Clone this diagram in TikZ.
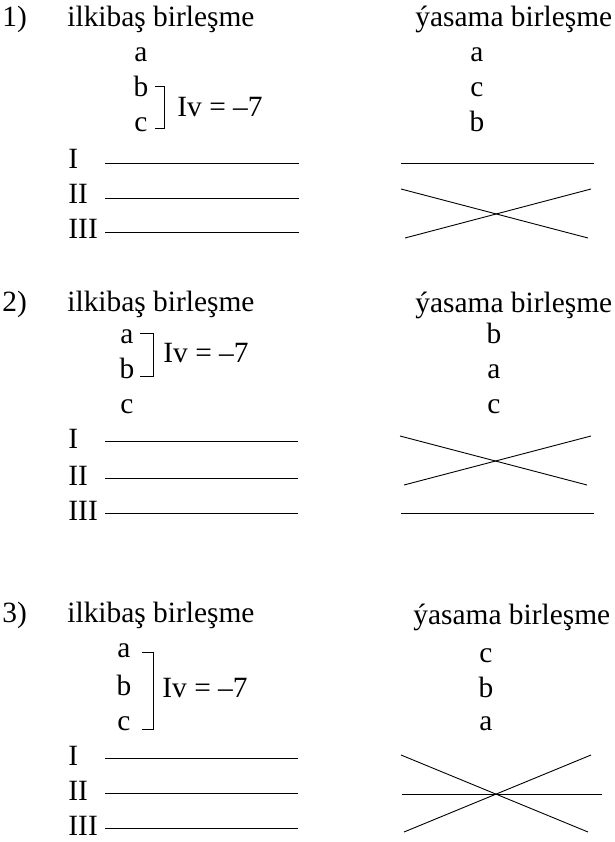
\documentclass[tikz,border=0pt]{standalone}
\usepackage{fontspec}
\setmainfont{Liberation Serif}
\usepackage{tikz}

\begin{document}
\begin{tikzpicture}[x=1pt, y=-1pt, line width=0.9pt,
    txt/.style={inner sep=0pt, anchor=base west, font=\fontsize{29.4}{35}\selectfont},
    atom/.style={inner sep=0pt, anchor=base, font=\fontsize{29.4}{35}\selectfont}]
    \useasboundingbox (0,0) rectangle (614,842);

    % 1) ilkibaş birleşme
    \node[txt] (n1) at (2,27) {1)};
    \node[txt] (t1) at (67,27) {ilkibaş birleşme};
    \node[atom] (a1) at (141,62) {a};
    \node[atom] (b1) at (141,97) {b};
    \node[atom] (c1) at (141,132) {c};
    \draw (155,86) -- (164,86) -- (164,128) -- (155,128);
    \node[txt] (iv1) at (177,117) {Iv = –7};
    \foreach \r/\y in {I/163, II/198, III/232} {
        \node[txt] (r1\r) at (68,\y+6) {\r};
        \draw (105,\y) -- (299,\y);
    }
    % ýasama birleşme
    \node[txt] (u1) at (415,27) {ýasama birleşme};
    \node[atom] (p1) at (477,62) {a};
    \node[atom] (q1) at (477,97) {c};
    \node[atom] (s1) at (477,132) {b};
    \draw (401,163) -- (594,163);
    \draw (401,189) -- (588,238);
    \draw (405,238) -- (591,189);

    % 2) ilkibaş birleşme
    \node[txt] (n2) at (2,311) {2)};
    \node[txt] (t2) at (67,311) {ilkibaş birleşme};
    \node[atom] (a2) at (127,343) {a};
    \node[atom] (b2) at (127,378) {b};
    \node[atom] (c2) at (127,413) {c};
    \draw (140,333) -- (153,333) -- (153,376) -- (140,376);
    \node[txt] (iv2) at (163,362) {Iv = –7};
    \foreach \r/\y in {I/441, II/478, III/513} {
        \node[txt] (r2\r) at (68,\y+7) {\r};
        \draw (105,\y) -- (298,\y);
    }
    % ýasama birleşme
    \node[txt] (u2) at (415,312) {ýasama birleşme};
    \node[atom] (p2) at (494,343) {b};
    \node[atom] (q2) at (494,378) {a};
    \node[atom] (s2) at (494,413) {c};
    \draw (400,436) -- (587,485);
    \draw (404,485) -- (591,436);
    \draw (401,513) -- (594,513);

    % 3) ilkibaş birleşme
    \node[txt] (n3) at (2,622) {3)};
    \node[txt] (t3) at (67,622) {ilkibaş birleşme};
    \node[atom] (a3) at (124,657) {a};
    \node[atom] (b3) at (124,695) {b};
    \node[atom] (c3) at (124,730) {c};
    \draw (142,652) -- (153,652) -- (153,729) -- (142,729);
    \node[txt] (iv3) at (162,697) {Iv = –7};
    \foreach \r/\y in {I/758, II/793, III/828} {
        \node[txt] (r3\r) at (68,\y+7) {\r};
        \draw (105,\y) -- (298,\y);
    }
    % ýasama birleşme
    \node[txt] (u3) at (413,624) {ýasama birleşme};
    \node[atom] (p3) at (486,662) {c};
    \node[atom] (q3) at (486,697) {b};
    \node[atom] (s3) at (486,730) {a};
    \draw (401,755) -- (588,832);
    \draw (404,832) -- (591,755);
    \draw (402,794) -- (602,794);
\end{tikzpicture}
\end{document}
